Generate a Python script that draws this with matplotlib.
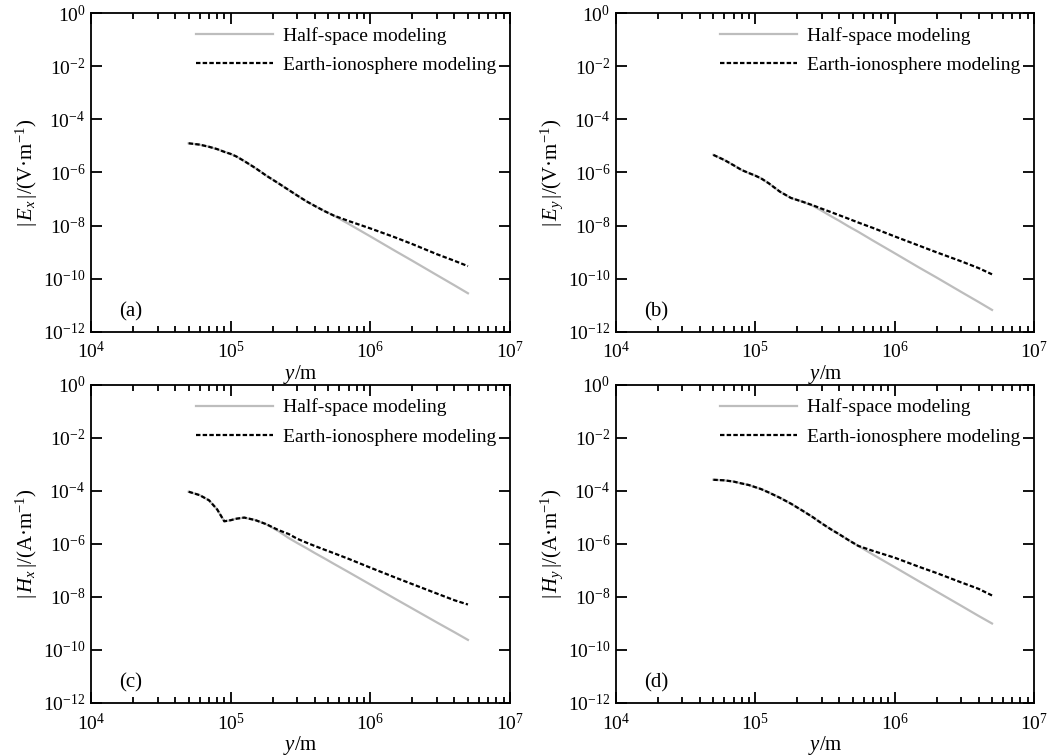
import numpy as np
import matplotlib
matplotlib.use('Agg')
import matplotlib.pyplot as plt
from matplotlib.ticker import LogLocator, NullLocator, NullFormatter

plt.rcParams['font.family'] = ['Liberation Serif', 'DejaVu Serif']
plt.rcParams['mathtext.fontset'] = 'custom'
plt.rcParams['mathtext.rm'] = 'Liberation Serif'
plt.rcParams['mathtext.it'] = 'Liberation Serif:italic'
plt.rcParams['axes.unicode_minus'] = False
plt.rcParams['font.size'] = 14

# distancia y (m), comum aos quatro paineis
y_m = [5e4, 6e4, 7e4, 8e4, 9e4, 1e5, 1.1e5, 1.25e5, 1.5e5, 1.8e5, 2.2e5, 2.6e5,
       3e5, 3.5e5, 4e5, 4.7e5, 5.5e5, 7e5, 1e6, 1.5e6, 2e6, 3e6, 4e6, 5e6]

# (a) |Ex|
ex_half = [1.26e-5, 1.12e-5, 9.3e-6, 7.6e-6, 6.0e-6, 5.0e-6, 4.0e-6, 2.7e-6, 1.48e-6, 7.6e-7,
           3.9e-7, 2.2e-7, 1.35e-7, 8.1e-8, 5.5e-8, 3.5e-8, 2.35e-8,
           1.15e-8, 3.9e-9, 1.12e-9, 4.7e-10, 1.35e-10, 5.6e-11, 2.8e-11]
ex_iono = [1.26e-5, 1.12e-5, 9.3e-6, 7.6e-6, 6.0e-6, 5.0e-6, 4.0e-6, 2.7e-6, 1.48e-6, 7.6e-7,
           3.9e-7, 2.2e-7, 1.35e-7, 8.1e-8, 5.5e-8, 3.5e-8, 2.35e-8,
           1.48e-8, 7.8e-9, 3.6e-9, 2.0e-9, 8.3e-10, 4.7e-10, 2.95e-10]

# (b) |Ey|
ey_half = [4.6e-6, 2.95e-6, 1.86e-6, 1.23e-6, 9.5e-7, 7.6e-7, 6.0e-7, 3.9e-7, 1.9e-7, 1.1e-7,
           7.8e-8, 5.5e-8, 3.6e-8, 2.24e-8, 1.51e-8, 9.1e-9, 5.75e-9,
           2.7e-9, 9.1e-10, 2.6e-10, 1.1e-10, 3.16e-11, 1.32e-11, 6.6e-12]
ey_iono = [4.6e-6, 2.95e-6, 1.86e-6, 1.23e-6, 9.5e-7, 7.6e-7, 6.0e-7, 3.9e-7, 1.9e-7, 1.1e-7,
           7.8e-8, 5.75e-8, 4.3e-8, 3.2e-8, 2.45e-8, 1.78e-8, 1.29e-8,
           8.1e-9, 3.9e-9, 1.74e-9, 9.8e-10, 4.5e-10, 2.5e-10, 1.45e-10]

# (c) |Hx|
hx_half = [9.3e-5, 6.9e-5, 4.4e-5, 2.0e-5, 7.1e-6, 7.8e-6, 8.9e-6, 9.8e-6, 7.9e-6, 5.5e-6,
           3.0e-6, 1.66e-6, 1.07e-6, 6.8e-7, 4.5e-7, 2.8e-7, 1.74e-7,
           8.5e-8, 2.9e-8, 8.5e-9, 3.6e-9, 1.07e-9, 4.6e-10, 2.35e-10]
hx_iono = [9.3e-5, 6.9e-5, 4.4e-5, 2.0e-5, 7.1e-6, 7.8e-6, 8.9e-6, 9.8e-6, 7.9e-6, 5.5e-6,
           3.3e-6, 2.35e-6, 1.55e-6, 1.1e-6, 8.3e-7, 6.0e-7, 4.4e-7,
           2.7e-7, 1.26e-7, 5.4e-8, 3.0e-8, 1.32e-8, 7.4e-9, 5.1e-9]

# (d) |Hy|
hy_half = [2.63e-4, 2.5e-4, 2.24e-4, 1.9e-4, 1.66e-4, 1.38e-4, 1.17e-4, 8.7e-5, 5.5e-5, 3.3e-5,
           1.74e-5, 1.0e-5, 5.9e-6, 3.5e-6, 2.3e-6, 1.35e-6, 8.3e-7,
           3.9e-7, 1.32e-7, 3.8e-8, 1.58e-8, 4.6e-9, 1.9e-9, 9.8e-10]
hy_iono = [2.63e-4, 2.5e-4, 2.24e-4, 1.9e-4, 1.66e-4, 1.38e-4, 1.17e-4, 8.7e-5, 5.5e-5, 3.3e-5,
           1.74e-5, 1.0e-5, 5.9e-6, 3.5e-6, 2.3e-6, 1.35e-6, 8.3e-7,
           5.4e-7, 3.0e-7, 1.35e-7, 7.9e-8, 3.5e-8, 2.0e-8, 1.12e-8]

paineis = [
    ('(a)', ex_half, ex_iono, r'$|\,E_x\,|/(\mathrm{V·m}^{-1})$'),
    ('(b)', ey_half, ey_iono, r'$|\,E_y\,|/(\mathrm{V·m}^{-1})$'),
    ('(c)', hx_half, hx_iono, r'$|\,H_x\,|/(\mathrm{A·m}^{-1})$'),
    ('(d)', hy_half, hy_iono, r'$|\,H_y\,|/(\mathrm{A·m}^{-1})$'),
]

# posicoes dos eixos em fracao da figura
posicoes = [
    [0.0857, 0.5607, 0.3945, 0.4217],
    [0.5800, 0.5607, 0.3936, 0.4217],
    [0.0857, 0.0693, 0.3945, 0.4208],
    [0.5800, 0.0693, 0.3936, 0.4208],
]

fig = plt.figure(figsize=(10.62, 7.55), dpi=100)

for (letra, half, iono, ylab), pos in zip(paineis, posicoes):
    ax = fig.add_axes(pos)
    ax.plot(y_m, half, color='#bdbdbd', lw=1.6, label='Half-space modeling')
    ax.plot(y_m, iono, color='black', lw=1.6, linestyle=(0, (2.0, 1.0)),
            label='Earth-ionosphere modeling')
    ax.set_xscale('log')
    ax.set_yscale('log')
    ax.set_xlim(1e4, 1e7)
    ax.set_ylim(1e-12, 1e0)
    ax.set_yticks([10.0 ** k for k in range(-12, 1, 2)])
    ax.yaxis.set_minor_locator(NullLocator())
    ax.xaxis.set_major_locator(LogLocator(base=10))
    ax.xaxis.set_minor_locator(LogLocator(base=10, subs=np.arange(2, 10)))
    ax.xaxis.set_minor_formatter(NullFormatter())
    ax.tick_params(which='both', direction='in', top=True, right=True, width=1.3)
    ax.tick_params(which='major', length=8)
    ax.tick_params(axis='y', which='major', pad=4)
    ax.tick_params(axis='x', which='major', pad=7)
    ax.tick_params(which='minor', length=4)
    for s in ax.spines.values():
        s.set_linewidth(1.3)
    ax.set_xlabel(r'$y/\mathrm{m}$', labelpad=0, fontsize=15)
    ax.set_ylabel(ylab, labelpad=2, fontsize=15)
    ax.text(0.067, 0.062, letra, transform=ax.transAxes, va='center', ha='left', fontsize=15)
    ax.legend(loc='upper right', frameon=False, handlelength=4.0,
              borderaxespad=0.3, labelspacing=0.6, handletextpad=0.5)

fig.savefig('out.png', dpi=100)
